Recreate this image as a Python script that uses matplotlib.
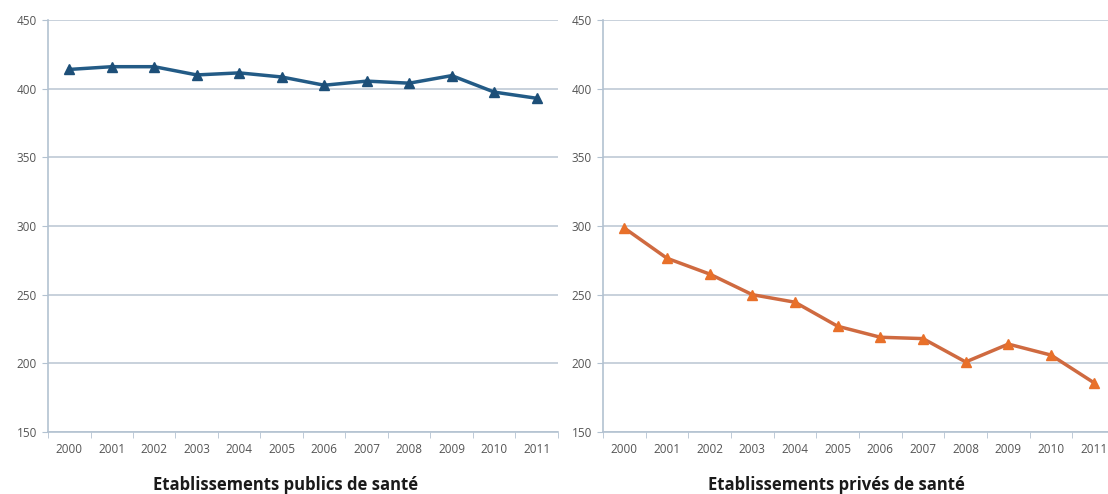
import matplotlib.pyplot as plt

years = ["2000", "2001", "2002", "2003", "2004", "2005",
         "2006", "2007", "2008", "2009", "2010", "2011"]
publics = [414, 416, 416, 410, 411.5, 408.5, 402.5, 405.5, 404, 409.5, 397.5, 393]
prives = [298.5, 276.5, 265, 250, 244.5, 227, 219, 218, 201, 214, 206, 186]

titles = ["Etablissements publics de santé", "Etablissements privés de santé"]

plt.rcParams["font.family"] = ["Open Sans", "DejaVu Sans"]

fig = plt.figure(figsize=(11.08, 4.94), dpi=100)
ax1 = fig.add_axes([48 / 1108, 1 - 432 / 494, 510 / 1108, 412 / 494])
ax2 = fig.add_axes([603 / 1108, 1 - 432 / 494, 512 / 1108, 412 / 494])

grid_col = "#c4ced9"
axis_col = "#b3c2d1"
text_col = "#555555"

for ax, vals, col, mcol, title, tx in [
    (ax1, publics, "#235b86", "#1d4f78", titles[0], 286 / 1108),
    (ax2, prives, "#cf6a40", "#e8702a", titles[1], 836 / 1108),
]:
    x = list(range(len(years)))
    ax.plot(x, vals, color=col, lw=2.5, marker="^", ms=6.5,
            markerfacecolor=mcol, markeredgecolor=mcol, zorder=3)
    ax.set_ylim(150, 450)
    ax.set_yticks([150, 200, 250, 300, 350, 400, 450])
    ax.set_xlim(-0.5, 11.5)
    ax.set_xticks(x)
    ax.set_xticklabels(years)
    ax.set_xticks([i - 0.5 for i in range(13)], minor=True)
    ax.tick_params(axis="x", which="major", length=0, pad=8,
                   labelsize=8.5, labelcolor=text_col)
    ax.tick_params(axis="x", which="minor", length=4, color=axis_col)
    ax.tick_params(axis="y", length=4, color=axis_col, labelsize=8.5,
                   labelcolor=text_col, pad=4)
    ax.grid(axis="y", color=grid_col, lw=1.3)
    ax.set_axisbelow(True)
    for s in ["top", "right"]:
        ax.spines[s].set_visible(False)
    for s in ["left", "bottom"]:
        ax.spines[s].set_color(axis_col)
        ax.spines[s].set_linewidth(1.2)
    fig.text(tx, 1 - 485 / 494, title, ha="center", va="center",
             fontsize=12, fontweight="bold", color="#1a1a1a")

fig.savefig("out.png", dpi=100, facecolor="white")
